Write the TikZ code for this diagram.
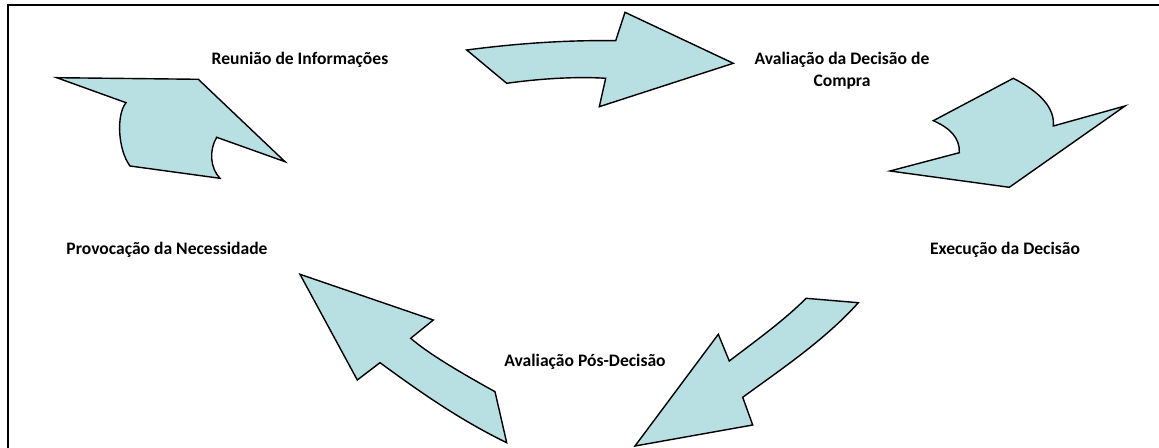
\documentclass[tikz,border=0pt]{standalone}
\usepackage{fontspec}
\setmainfont{Carlito}
\usepackage{tikz}
\usetikzlibrary{positioning}
\definecolor{setafill}{RGB}{184,223,226}
\tikzset{
  seta/.style={fill=setafill,draw=black,line width=0.8pt,line join=miter},
  etapa/.style={font=\bfseries\fontsize{10}{12.5}\selectfont,align=center,inner sep=0pt},
  moldura/.style={line width=1.1pt}
}
\begin{document}
\begin{tikzpicture}[x=0.02cm,y=-0.02cm]
\useasboundingbox (0,0) rectangle (1159,448);
% Frame (cut off right and bottom)
\draw[moldura] (8,448) -- (8,5) -- (1159,5);

% Arrow 1: up-left (towards Reuniao)
\draw[seta] (56.7,77.7) -- (198.3,79.3) -- (285,161.7) -- (216.7,137.3)
  .. controls (209,150) and (210,168) .. (220,178.3) -- (130,166)
  .. controls (118,150) and (116,115) .. (126,102.7) -- cycle;

% Arrow 2: right (towards Avaliacao da Decisao)
\draw[seta] (466.7,50) .. controls (520,43) and (570,40) .. (615.7,40.7)
  -- (625,12.3) -- (733.3,63.3) -- (599.3,106.7) -- (605.7,78.3)
  .. controls (570,76) and (530,80) .. (506.7,83.3) -- cycle;

% Arrow 3: down (towards Execucao)
\draw[seta] (1013.3,78.3) .. controls (1040,92) and (1055,108) .. (1053.3,126)
  -- (1125,106) -- (1009.3,187.3) -- (890,171) -- (959.3,152.7)
  .. controls (960,138) and (950,128) .. (933.3,120.7) -- cycle;

% Arrow 4: down-left (towards Avaliacao Pos-Decisao)
\draw[seta] (806,298.3) -- (858.3,302.7)
  .. controls (825,340) and (780,370) .. (742.7,397.3)
  -- (752.7,425) -- (635,446) -- (718.3,334.3) -- (729.3,361)
  .. controls (750,345) and (785,320) .. (806,298.3) -- cycle;

% Arrow 5: up-left (towards Provocacao)
\draw[seta] (300,274.3) -- (433.3,320) -- (410.7,338.3)
  .. controls (430,355) and (465,375) .. (495,391.7)
  -- (506.7,442.7) .. controls (460,420) and (420,392) .. (380,362.7)
  -- (357.3,380) -- cycle;

% Labels
\node[etapa] (reuniao) at (300,60) {Reunião de Informações};
\node[etapa] (avaliacao) at (842,71) {Avaliação da Decisão de\\Compra};
\node[etapa] (execucao) at (1005,250) {Execução da Decisão};
\node[etapa] (posdecisao) at (585,362) {Avaliação Pós-Decisão};
\node[etapa] (provocacao) at (167,250) {Provocação da Necessidade};
\end{tikzpicture}
\end{document}
